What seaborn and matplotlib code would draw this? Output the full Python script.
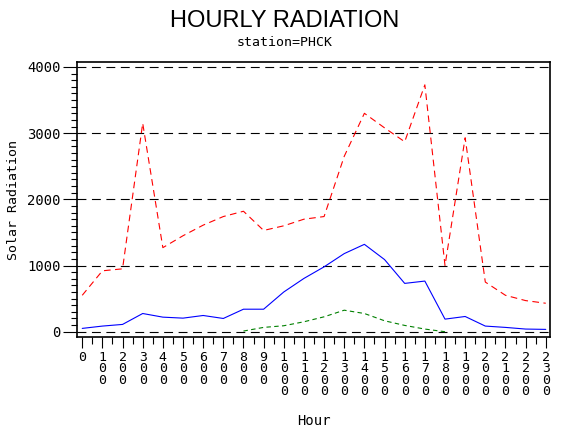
import numpy as np
import pandas as pd
import matplotlib
matplotlib.use("Agg")
import matplotlib.pyplot as plt
import seaborn as sns
from matplotlib.ticker import MultipleLocator

hours = [0, 100, 200, 300, 400, 500, 600, 700, 800, 900, 1000, 1100,
         1200, 1300, 1400, 1500, 1600, 1700, 1800, 1900, 2000, 2100, 2200, 2300]
max_rad = [550, 920, 950, 3150, 1270, 1450, 1610, 1740, 1820, 1530, 1600, 1700,
           1740, 2650, 3300, 3080, 2870, 3730, 1000, 2930, 750, 550, 470, 430]
mean_rad = [50, 85, 110, 275, 220, 205, 245, 200, 340, 340, 600, 805,
            980, 1180, 1320, 1090, 730, 765, 190, 230, 85, 65, 40, 35]
min_rad = [np.nan] * 8 + [10, 65, 90, 150, 225, 325, 275, 165, 95, 40, 0] + [np.nan] * 5
tick_labels = ["\n".join(str(h)) for h in hours]

df = pd.DataFrame({"Hour": hours, "max": max_rad, "mean": mean_rad, "min": min_rad})

sns.set_style("white")
plt.rcParams['font.family'] = ['DejaVu Sans Mono', 'DejaVu Sans']
plt.rcParams.update({"text.color": "black", "axes.labelcolor": "black",
                     "xtick.color": "black", "ytick.color": "black"})

fig = plt.figure(figsize=(5.7, 4.3), dpi=100)
ax = fig.add_axes([77/570, 1-337/430, (550-77)/570, (337-62)/430])

for y in [0, 1000, 2000, 3000, 4000]:
    ax.axhline(y, color="black", lw=0.8, dashes=(8, 5), zorder=1)

sns.lineplot(data=df, x="Hour", y="max", ax=ax, color="#ff0000", lw=0.8,
             zorder=3).lines[-1].set_dashes((6, 4))
sns.lineplot(data=df, x="Hour", y="mean", ax=ax, color="#0000ff", lw=0.8, zorder=3)
l = sns.lineplot(data=df, x="Hour", y="min", ax=ax, color="#008000", lw=0.8, zorder=3).lines[-1]
l.set_dashes((4, 3))

ax.set_xlim(-26, 2321)
ax.set_ylim(-80, 4075)
ax.set_xticks(hours)
ax.set_xticklabels(tick_labels, fontsize=9.5, linespacing=0.85)
ax.xaxis.set_minor_locator(MultipleLocator(50))
ax.set_yticks([0, 1000, 2000, 3000, 4000])
ax.yaxis.set_minor_locator(MultipleLocator(100))
ax.tick_params(axis="x", which="major", length=8, width=0.8, direction="out", pad=2, bottom=True)
ax.tick_params(axis="x", which="minor", length=5, width=0.8, direction="out", bottom=True)
ax.tick_params(axis="y", which="major", length=10, width=0.8, direction="out", pad=2, labelsize=10, left=True)
ax.tick_params(axis="y", which="minor", length=4, width=0.8, direction="out", left=True)
for s in ax.spines.values():
    s.set_color("black")
    s.set_linewidth(1.2)

ax.set_xlabel("Hour", fontsize=10, labelpad=11)
ax.set_ylabel("Solar Radiation", fontsize=9.5, labelpad=5)

fig.text(0.5, 1-21/430, "HOURLY RADIATION", ha="center", va="center",
         fontsize=17, family="Liberation Sans", color="black")
fig.text(0.5, 1-43/430, "station=PHCK", ha="center", va="center", fontsize=9.5,
         color="black")

fig.savefig("out.png", dpi=100)
